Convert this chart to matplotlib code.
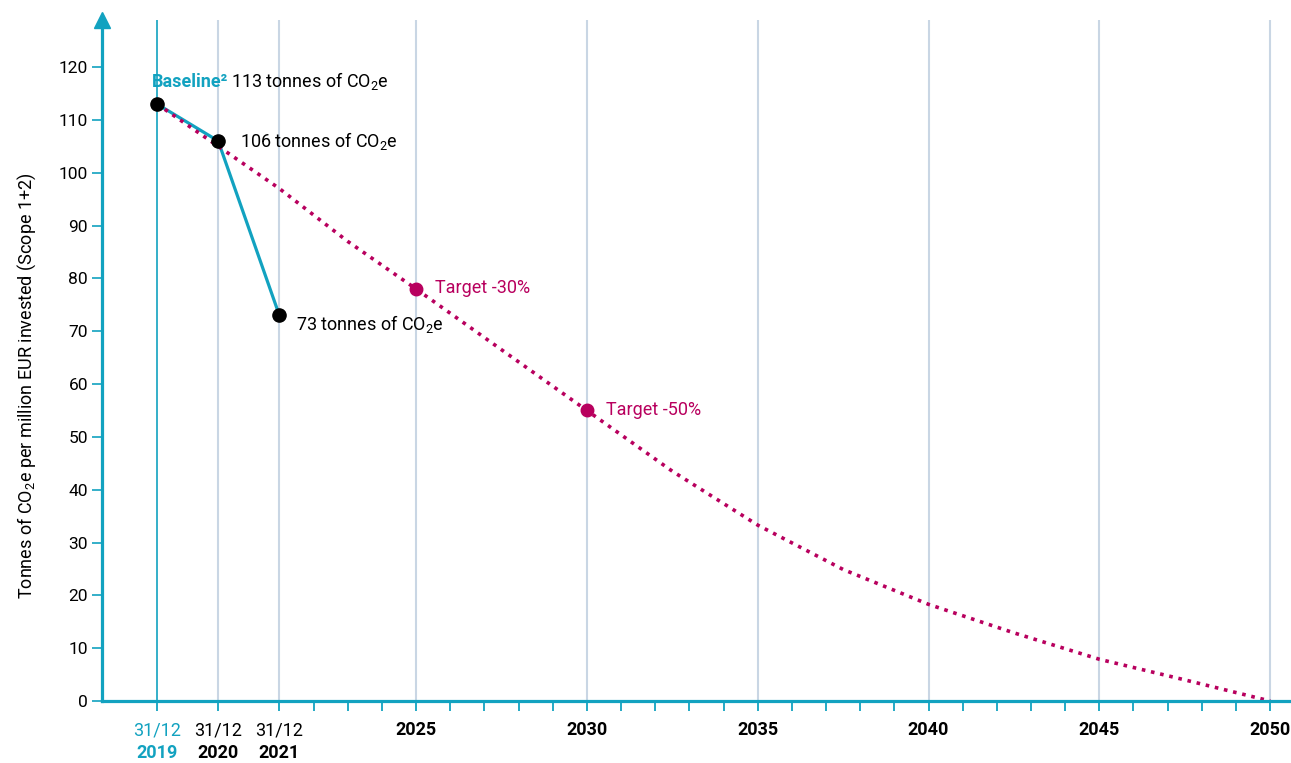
import numpy as np
import matplotlib
matplotlib.use("Agg")
import matplotlib.pyplot as plt
from matplotlib.scale import FuncScale
from matplotlib.ticker import FixedLocator, NullFormatter

# ---------------- data ----------------
actual_years = [2019, 2020, 2021]
actual_values = [113, 106, 73]
actual_labels = ["113 tonnes of CO$_2$e", "106 tonnes of CO$_2$e", "73 tonnes of CO$_2$e"]

target_years = [2019, 2020, 2021, 2023, 2025, 2027.5, 2030, 2032.5, 2035, 2037.5,
                2040, 2042.5, 2045, 2047.5, 2050]
target_values = [113, 105, 97, 87, 78, 66.5, 55, 43.5, 33.3, 24.9,
                 18.3, 12.9, 7.9, 4.0, 0]

milestone_years = [2025, 2030]
milestone_values = [78, 55]
milestone_labels = ["Target -30%", "Target -50%"]

major_years = [2019, 2020, 2021, 2025, 2030, 2035, 2040, 2045, 2050]
minor_years = list(range(2019, 2051))
yticks = list(range(0, 121, 10))

TEAL = "#12a2c0"
MAGENTA = "#b8005e"
GRID = "#c9d6e4"

plt.rcParams["font.family"] = ["Roboto", "DejaVu Sans"]
plt.rcParams["mathtext.fontset"] = "custom"
plt.rcParams["mathtext.rm"] = "Roboto"
plt.rcParams["mathtext.it"] = "Roboto:italic"
plt.rcParams["mathtext.bf"] = "Roboto:bold"

fig = plt.figure(figsize=(12.91, 7.63), dpi=100)
ax = fig.add_axes([102 / 1291, 62 / 763, 1189 / 1291, 681 / 763])

STRETCH = 1.79


def fwd(x):
    x = np.asarray(x, dtype=float)
    return np.where(x < 2021, 2021 + (x - 2021) * STRETCH, x)


def inv(x):
    x = np.asarray(x, dtype=float)
    return np.where(x < 2021, 2021 + (x - 2021) / STRETCH, x)


ax.set_xscale(FuncScale(ax.xaxis, (fwd, inv)))
ax.set_xlim(2018.10, 2050.61)
ax.set_ylim(0, 128.9)

# grid lines
for yr in major_years:
    if yr == 2019:
        ax.axvline(yr, color=TEAL, lw=1.2, zorder=1)
    else:
        ax.axvline(yr, color=GRID, lw=1.5, zorder=1)

# actual line
ax.plot(actual_years, actual_values, color=TEAL, lw=2.3, zorder=3, solid_capstyle="round")
# target dotted curve
ax.plot(target_years, target_values, color=MAGENTA, lw=2.6,
        linestyle=(0, (1, 1.6)), dash_capstyle="butt", zorder=4)
# milestones
ax.plot(milestone_years, milestone_values, "o", color=MAGENTA, ms=9, zorder=5)
# actual dots
ax.plot(actual_years, actual_values, "o", color="black", ms=9.5, zorder=6)

# spines
for s in ["top", "right"]:
    ax.spines[s].set_visible(False)
for s in ["left", "bottom"]:
    ax.spines[s].set_color(TEAL)
    ax.spines[s].set_linewidth(2.3)
    ax.spines[s].set_zorder(7)

# arrow at top of y axis
ax.plot([0], [1], marker="^", color=TEAL, ms=12, transform=ax.transAxes,
        clip_on=False, zorder=8)

# ticks
ax.set_yticks(yticks)
ax.set_yticklabels([str(v) for v in yticks])
ax.tick_params(axis="y", direction="out", length=7, width=1.2, color=TEAL,
               labelsize=12.5, pad=3)
ax.xaxis.set_major_locator(FixedLocator(major_years))
ax.xaxis.set_minor_locator(FixedLocator(minor_years))
ax.xaxis.set_major_formatter(NullFormatter())
ax.tick_params(axis="x", which="both", direction="out", length=7.5, width=1.3, color=TEAL)

xt = ax.get_xaxis_transform()
for yr in major_years:
    if yr <= 2021:
        col = TEAL if yr == 2019 else "black"
        ax.annotate("31/12", xy=(yr, 0), xycoords=xt, xytext=(0, -21),
                    textcoords="offset points", ha="center", va="center",
                    fontsize=13, color=col)
        ax.annotate(str(yr), xy=(yr, 0), xycoords=xt, xytext=(0, -37.5),
                    textcoords="offset points", ha="center", va="center",
                    fontsize=13, color=col, fontweight="bold")
    else:
        ax.annotate(str(yr), xy=(yr, 0), xycoords=xt, xytext=(0, -21),
                    textcoords="offset points", ha="center", va="center",
                    fontsize=13, color="black", fontweight="bold")

ax.set_ylabel("Tonnes of CO$_2$e per million EUR invested (Scope 1+2)", fontsize=13)
ax.yaxis.set_label_coords(-0.054, 0.4626)

# annotations
FS = 13
t1 = ax.annotate("Baseline²", xy=(actual_years[0], actual_values[0]),
                 xytext=(-4, 12.5), textcoords="offset points",
                 ha="left", va="baseline", fontsize=FS, color=TEAL,
                 fontweight="bold", zorder=9)
fig.canvas.draw()
bb = t1.get_window_extent()
px0 = ax.transData.transform((actual_years[0], actual_values[0]))[0]
dx_pt = (bb.x1 + 3 - px0) * 72 / fig.dpi
ax.annotate(actual_labels[0], xy=(actual_years[0], actual_values[0]),
            xytext=(dx_pt, 12.5), textcoords="offset points",
            ha="left", va="baseline", fontsize=FS, color="black", zorder=9)

ax.annotate(actual_labels[1], xy=(actual_years[1], actual_values[1]),
            xytext=(15.5, 0), textcoords="offset points",
            ha="left", va="center", fontsize=FS, color="black", zorder=9)
ax.annotate(actual_labels[2], xy=(actual_years[2], actual_values[2]),
            xytext=(12, -6), textcoords="offset points",
            ha="left", va="center", fontsize=FS, color="black", zorder=9)
for yr, v, lab in zip(milestone_years, milestone_values, milestone_labels):
    ax.annotate(lab, xy=(yr, v), xytext=(13.5, 0.5), textcoords="offset points",
                ha="left", va="center", fontsize=FS, color=MAGENTA, zorder=9)

fig.savefig("out.png", dpi=100)
